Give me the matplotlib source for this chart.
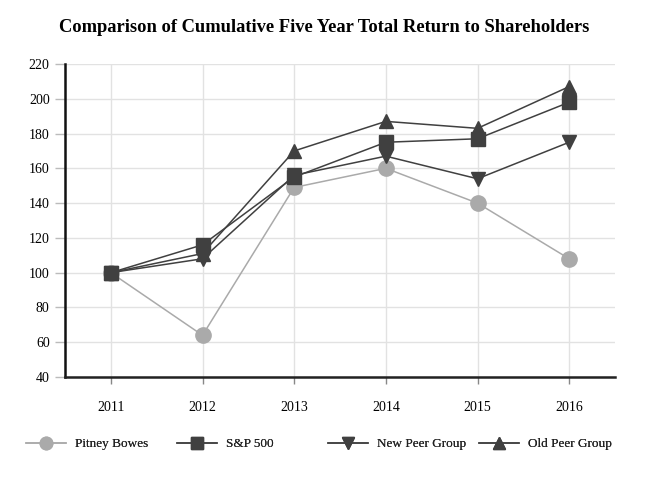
import matplotlib
matplotlib.use("Agg")
import matplotlib.pyplot as plt
from matplotlib.lines import Line2D

years = [2011, 2012, 2013, 2014, 2015, 2016]
pitney = [100, 64, 149, 160, 140, 108]
sp500 = [100, 116, 155, 175, 177, 198]
new_peer = [100, 108, 156, 167, 154, 175]
old_peer = [100, 111, 170, 187, 183, 207]
yticks = [40, 60, 80, 100, 120, 140, 160, 180, 200, 220]

plt.rcParams['font.family'] = ['Liberation Serif', 'DejaVu Serif']

fig = plt.figure(figsize=(6.48, 4.8), dpi=100)
ax = fig.add_axes([65/648, 1-377/480, (615-65)/648, (377-64)/480])

dark = '#404040'
light = '#aaaaaa'

series = [
    ("Pitney Bowes", pitney, 'o', light, 11),
    ("S&P 500", sp500, 's', dark, 10),
    ("New Peer Group", new_peer, 'v', dark, 10),
    ("Old Peer Group", old_peer, '^', dark, 10),
]
for name, vals, m, c, ms in series:
    ax.plot(years, vals, color=c, marker=m, markersize=ms, linewidth=1.1,
            markeredgecolor=c, zorder=3 if c == dark else 2.5)

ax.set_xlim(2010.5, 2016.5)
ax.set_ylim(40, 220)
ax.set_yticks(yticks)
ax.set_xticks(years)
ax.grid(True, color='#e2e2e2', linewidth=1)
ax.set_axisbelow(True)
for s in ['top', 'right']:
    ax.spines[s].set_visible(False)
ax.spines['left'].set_linewidth(1.8)
ax.spines['left'].set_color('#111111')
ax.spines['bottom'].set_linewidth(1.8)
ax.spines['bottom'].set_color('#222222')
ax.tick_params(axis='y', length=7, width=1, color='#bbbbbb', labelsize=10, pad=4)
ax.tick_params(axis='x', length=5, width=1, color='#888888', labelsize=10, pad=12)

fig.text(0.5, 1-27/480, "Comparison of Cumulative Five Year Total Return to Shareholders",
         ha='center', va='center', fontsize=13.3, fontweight='bold')

xs = [26, 177, 328, 479]
for (name, vals, m, c, ms), x0 in zip(series, xs):
    h = Line2D([], [], color=c, marker=m, markersize=ms - 2, linewidth=1.1, markeredgecolor=c)
    lg = fig.legend([h], [name], loc='center left', bbox_to_anchor=(x0/648, 1-444/480),
                    frameon=False, fontsize=9.5, handlelength=3.0, handletextpad=0.75,
                    borderpad=0, borderaxespad=0)
    for t in lg.get_texts():
        t.set_color('#222222')
    fig.add_artist(lg)

fig.savefig("out.png", dpi=100)
